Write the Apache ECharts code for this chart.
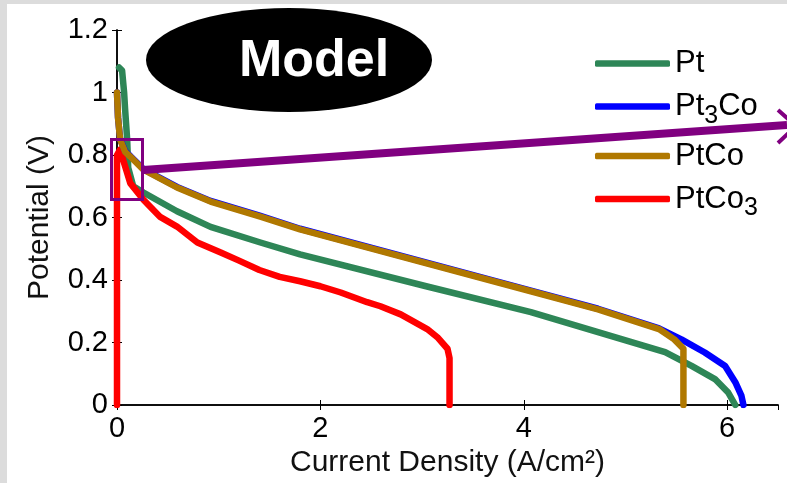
<!DOCTYPE html>
<html><head><meta charset="utf-8">
<script src="https://cdn.jsdelivr.net/npm/echarts@6/dist/echarts.min.js"></script>
<style>
html,body{margin:0;padding:0;}
#c{width:787px;height:483px;
background:linear-gradient(#dcdcdc,#dcdcdc) 0 0/7px 100% no-repeat,linear-gradient(#dcdcdc,#dcdcdc) 0 0/100% 4px no-repeat,#ffffff;}
</style></head>
<body><div id="c"></div>
<script>
const seriesNames = ['Pt', 'Pt3Co', 'PtCo', 'PtCo3'];
const yTicks = [0, 0.2, 0.4, 0.6, 0.8, 1.0, 1.2];
const xTicks = [0, 2, 4, 6];
const ptData = [[0.02,1.08],[0.05,1.07],[0.07,1.0],[0.08,0.945],[0.1,0.85],[0.11,0.76],[0.16,0.70],[0.26,0.68],[0.59,0.62],[0.92,0.57],[1.41,0.52],[1.8,0.482],[3.04,0.38],[4.07,0.297],[4.73,0.233],[5.39,0.169],[5.65,0.125],[5.88,0.083],[6.01,0.04],[6.08,0]];
const pt3coData = [[0,1.0],[0.01,0.92],[0.03,0.852],[0.08,0.812],[0.13,0.797],[0.26,0.755],[0.59,0.698],[0.92,0.653],[1.41,0.605],[1.8,0.564],[4.07,0.366],[4.73,0.308],[5.33,0.245],[5.55,0.21],[5.78,0.168],[5.98,0.125],[6.08,0.073],[6.14,0.03],[6.16,0]];
const ptcoData = [[0,1.0],[0.01,0.92],[0.03,0.85],[0.08,0.81],[0.13,0.795],[0.26,0.753],[0.59,0.696],[0.92,0.651],[1.41,0.603],[1.8,0.562],[4.07,0.364],[4.73,0.306],[5.33,0.243],[5.48,0.21],[5.57,0.18],[5.57,0]];
const ptco3Data = [[0,0],[0,0.80],[0.03,0.817],[0.13,0.71],[0.26,0.657],[0.42,0.603],[0.59,0.571],[0.79,0.52],[1.02,0.488],[1.2,0.462],[1.4,0.432],[1.6,0.41],[1.8,0.396],[2.0,0.38],[2.2,0.36],[2.46,0.329],[2.59,0.316],[2.79,0.29],[3.05,0.243],[3.15,0.217],[3.25,0.18],[3.27,0.15],[3.27,0]];
const colors = ['#2e8657', '#0000ff', '#b07800', '#ff0000'];
const allData = [ptData, pt3coData, ptcoData, ptco3Data];

const FONT = "'Liberation Sans', Arial, sans-serif";
const chart = echarts.init(document.getElementById('c'), null, {renderer: 'canvas'});
const legendFmt = {
  'Pt': '{a|Pt}',
  'Pt3Co': '{a|Pt}{s|3}{a|Co}',
  'PtCo': '{a|PtCo}',
  'PtCo3': '{a|PtCo}{s|3}'
};
const axisCommon = {
  axisLine: {show: true, lineStyle: {color: '#000', width: 1.5}},
  axisTick: {show: true, inside: true, length: 5, lineStyle: {color: '#000'}},
  splitLine: {show: false}
};
chart.setOption({
  animation: false,
  backgroundColor: 'transparent',
  grid: {left: 117, top: 30, right: 9, bottom: 77, containLabel: false},
  xAxis: [Object.assign({
    type: 'value', min: 0, max: 6.5, interval: 2,
    name: 'Current Density (A/cm²)', nameLocation: 'middle', nameGap: 43,
    nameTextStyle: {fontFamily: FONT, fontSize: 30, color: '#111'},
    axisLabel: {fontFamily: FONT, fontSize: 29, color: '#000', margin: 9, showMaxLabel: false,
      formatter: v => xTicks.indexOf(v) >= 0 ? String(v) : ''}
  }, axisCommon), Object.assign({
    type: 'value', min: 0, max: 6.5, interval: 2, position: 'top',
    axisLabel: {show: false}
  }, axisCommon)],
  yAxis: [Object.assign({
    type: 'value', min: 0, max: 1.2, interval: 0.2,
    name: 'Potential (V)', nameLocation: 'middle', nameGap: 62,
    nameTextStyle: {fontFamily: FONT, fontSize: 30, color: '#111'},
    axisLabel: {fontFamily: FONT, fontSize: 29, color: '#000', margin: 9,
      formatter: v => String(Math.round(v * 10) / 10)}
  }, axisCommon), Object.assign({
    type: 'value', min: 0, max: 1.2, interval: 0.2, position: 'right',
    axisLabel: {show: false}
  }, axisCommon)],
  legend: {
    orient: 'vertical', left: 590, top: 43, itemGap: 12,
    itemWidth: 75, itemHeight: 6.5, icon: 'roundRect',
    data: seriesNames,
    formatter: n => legendFmt[n],
    textStyle: {
      fontFamily: FONT, color: '#000', padding: [0,0,0,0],
      rich: {
        a: {fontFamily: FONT, fontSize: 31, color: '#000', lineHeight: 44, verticalAlign: 'middle'},
        s: {fontFamily: FONT, fontSize: 25, color: '#000', lineHeight: 20, verticalAlign: 'bottom'}
      }
    }
  },
  graphic: [
    {type: 'circle', shape: {cx: 0, cy: 0, r: 52}, x: 289, y: 60, scaleX: 143/52, style: {fill: '#000'}, z: 10},
    {type: 'text', x: 314, y: 62, z: 11, style: {text: 'Model', fill: '#fff', font: 'bold 52px ' + FONT, textAlign: 'center', textVerticalAlign: 'middle'}},
    {type: 'rect', shape: {x: 111.5, y: 139.5, width: 31, height: 60}, style: {fill: 'none', stroke: '#800080', lineWidth: 3}, z: 10},
    {type: 'line', shape: {x1: 143, y1: 170, x2: 787, y2: 125}, style: {stroke: '#800080', lineWidth: 8}, z: 10},
    {type: 'polyline', shape: {points: [[778,110],[796,126],[778,143]]}, style: {stroke: '#800080', lineWidth: 4, fill: 'none'}, z: 10}
  ],
  series: seriesNames.map((n, i) => ({
    name: n, type: 'line', data: allData[i], showSymbol: false, symbol: 'none',
    xAxisIndex: 0, yAxisIndex: 0,
    lineStyle: {color: colors[i], width: 6.5, cap: 'round', join: 'round'},
    itemStyle: {color: colors[i]},
    z: 3 + (i === 3 ? 0 : i),
    clip: true
  }))
});
</script></body></html>
